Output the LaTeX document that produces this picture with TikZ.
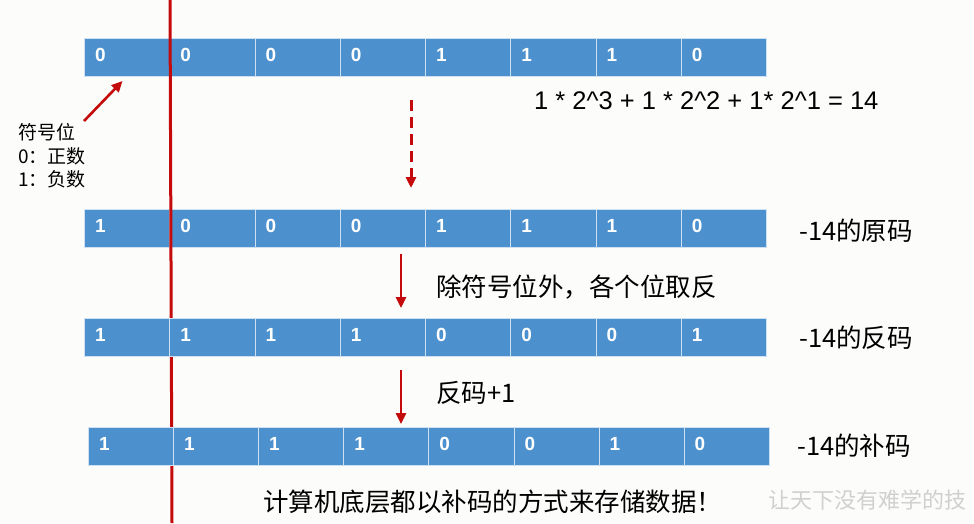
\documentclass[tikz,border=0pt]{standalone}
\usepackage{fontspec}
\setmainfont{Liberation Sans}
\newfontfamily\cjk{Noto Sans CJK SC}
\usepackage{tikz}
\usetikzlibrary{arrows.meta,calc}
\definecolor{cellblue}{RGB}{76,145,205}
\definecolor{cellrule}{RGB}{205,225,242}
\definecolor{markred}{RGB}{196,10,10}
\definecolor{paper}{RGB}{252,252,250}
\definecolor{stamp}{RGB}{208,208,208}

\begin{document}
\begin{tikzpicture}[x=1pt,y=-1pt,line join=round,
  bit/.style={draw=cellrule,line width=1pt,fill=cellblue,anchor=north west,
    minimum width=85.25pt,minimum height=38pt,inner xsep=10.5pt,inner ysep=0pt,
    text width=64.25pt,align=left,text height=13.5pt,text depth=6pt,text=white,
    font=\fontsize{19}{19}\selectfont\bfseries},
  note/.style={inner sep=0pt,anchor=base west,font=\cjk\fontsize{25.5}{25.5}\selectfont},
  flow/.style={markred,line width=2.6pt,-{Triangle[length=11pt,width=10pt]}}]
  \fill[paper] (0,0) rectangle (974,523);
  \useasboundingbox (0,0) rectangle (974,523);
  % +14
  \node[bit] (pos1) at (84.00,38) {0};
  \node[bit] (pos2) at (169.25,38) {0};
  \node[bit] (pos3) at (254.50,38) {0};
  \node[bit] (pos4) at (339.75,38) {0};
  \node[bit] (pos5) at (425.00,38) {1};
  \node[bit] (pos6) at (510.25,38) {1};
  \node[bit] (pos7) at (595.50,38) {1};
  \node[bit] (pos8) at (680.75,38) {0};
  % -14 yuanma
  \node[bit] (yuan1) at (84.00,209) {1};
  \node[bit] (yuan2) at (169.25,209) {0};
  \node[bit] (yuan3) at (254.50,209) {0};
  \node[bit] (yuan4) at (339.75,209) {0};
  \node[bit] (yuan5) at (425.00,209) {1};
  \node[bit] (yuan6) at (510.25,209) {1};
  \node[bit] (yuan7) at (595.50,209) {1};
  \node[bit] (yuan8) at (680.75,209) {0};
  \draw[markred,line width=3pt] (170,0) -- (172,523);
  % -14 fanma
  \node[bit] (fan1) at (84.00,318) {1};
  \node[bit] (fan2) at (169.25,318) {1};
  \node[bit] (fan3) at (254.50,318) {1};
  \node[bit] (fan4) at (339.75,318) {1};
  \node[bit] (fan5) at (425.00,318) {0};
  \node[bit] (fan6) at (510.25,318) {0};
  \node[bit] (fan7) at (595.50,318) {0};
  \node[bit] (fan8) at (680.75,318) {1};
  % -14 buma
  \node[bit] (bu1) at (88.0,427) {1};
  \node[bit] (bu2) at (173.1,427) {1};
  \node[bit] (bu3) at (258.2,427) {1};
  \node[bit] (bu4) at (343.3,427) {1};
  \node[bit] (bu5) at (428.4,427) {0};
  \node[bit] (bu6) at (513.5,427) {0};
  \node[bit] (bu7) at (598.6,427) {1};
  \node[bit] (bu8) at (683.7,427) {0};
  \coordinate (signtail) at (84,121);
  \coordinate (dashtop) at (411,100);
  \coordinate (dashtip) at (411,188);
  \coordinate (invtop) at (401,254);
  \coordinate (invtip) at (401,308);
  \coordinate (addtop) at (401,370);
  \coordinate (addtip) at (401,424);
  \draw[flow] (signtail) -- ($(pos1.south)+(-4.6,4)$);
  \draw[flow,line width=3pt,dash pattern=on 11pt off 6pt] (dashtop) -- (dashtip);
  \draw[flow] (invtop) -- (invtip);
  \draw[flow] (addtop) -- (addtip);
  \node[inner sep=0pt,anchor=west,align=left,font=\cjk\fontsize{19}{23.5}\selectfont] (signbit) at (18,155.8) {符号位\\0：正数\\1：负数};
  \node[inner sep=0pt,anchor=base west,font=\fontsize{25.5}{25.5}\selectfont] (sum) at (534,109) {1 * 2\string^3 + 1 * 2\string^2 + 1* 2\string^1 = 14};
  \node[note] (yuanlbl) at (799,240) {-14的原码};
  \node[note] (fanlbl) at (799,347) {-14的反码};
  \node[note] (bulbl) at (797,455) {-14的补码};
  \node[note] (invlbl) at (436,296.5) {除符号位外，各个位取反};
  \node[note] (addlbl) at (436,402) {反码+1};
  \node[note] (store) at (263,511) {计算机底层都以补码的方式来存储数据！};
  \node[note,text=stamp,font=\cjk\fontsize{22}{22}\selectfont] (stamp) at (768,508) {让天下没有难学的技};
\end{tikzpicture}
\end{document}
